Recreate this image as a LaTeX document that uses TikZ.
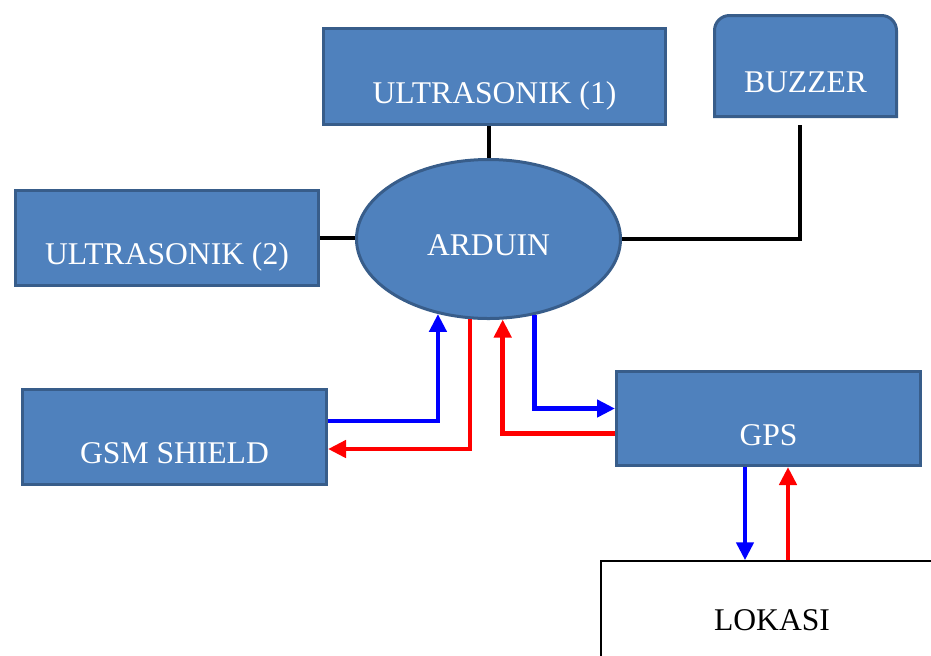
\documentclass[tikz,border=0pt]{standalone}
\usepackage{fontspec}
\setmainfont{Liberation Serif}
\usetikzlibrary{arrows.meta,shapes.geometric,backgrounds}
\definecolor{boxfill}{HTML}{4F81BD}
\definecolor{boxline}{HTML}{385D8A}
\tikzset{
  blk/.style={draw=boxline, fill=boxfill, line width=1.5pt, text=white,
    font=\fontsize{15.8}{19}\selectfont, text height=26.6pt, text depth=0pt},
  wire/.style={line width=2pt, black},
  sig/.style={line width=2.4pt, -{Triangle[width=8.5pt,length=9pt]}},
}
\begin{document}
\begin{tikzpicture}[x=0.5pt,y=-0.5pt]
\useasboundingbox (0,0) rectangle (931,655);
\clip (0,0) rectangle (931,655);
\node[blk, minimum width=171pt, minimum height=48pt] (u1) at (494.5,76.5) {ULTRASONIK (1)};
\node[blk, minimum width=151.5pt, minimum height=47.5pt] (u2) at (167,238) {ULTRASONIK (2)};
\node[blk, minimum width=152pt, minimum height=47.5pt] (gsm) at (174.5,437) {GSM SHIELD};
\node[blk, minimum width=152pt, minimum height=47pt] (gps) at (768.5,418.5) {GPS};
\node[blk, draw=none, fill=none, outer sep=0pt, minimum width=91pt, minimum height=50.5pt] (bz) at (805.5,66) {BUZZER};
\begin{scope}[on background layer]
\filldraw[draw=boxline, fill=boxfill, line width=1.5pt] (bz.south west) [rounded corners=7.5pt] -- (bz.north west) -- (bz.north east) [sharp corners] -- (bz.south east) -- cycle;
\end{scope}
\node[blk, ellipse, minimum width=132pt, minimum height=79.5pt, text height=16.6pt] (ard) at (488.5,239) {ARDUIN};
\node[draw, line width=0.75pt, font=\fontsize{15.8}{19}\selectfont, minimum width=171pt, minimum height=59pt] (lok) at (772,620) {LOKASI};
% kabel
\draw[wire] (ard.north) -- (ard.north |- u1.south);
\draw[wire] (u2.east) -- (u2.east -| ard.west);
\draw[wire] (ard.east) -| ([xshift=-3pt,yshift=-4pt]bz.south);
% data
\draw[sig, blue] ([yshift=8pt]gsm.east) -| (ard.236);
\draw[sig, red] (ard.257) |- ([yshift=-6pt]gsm.east);
\draw[sig, red] ([yshift=-7.5pt]gps.west) -| (ard.280);
\draw[sig, blue] (ard.301) |- ([yshift=5pt]gps.west);
\draw[sig, blue] ([xshift=-11.75pt]gps.south) -- ([xshift=-13.5pt]lok.north);
\draw[sig, red] ([xshift=8pt]lok.north) -- ([xshift=9.75pt]gps.south);
\end{tikzpicture}
\end{document}
